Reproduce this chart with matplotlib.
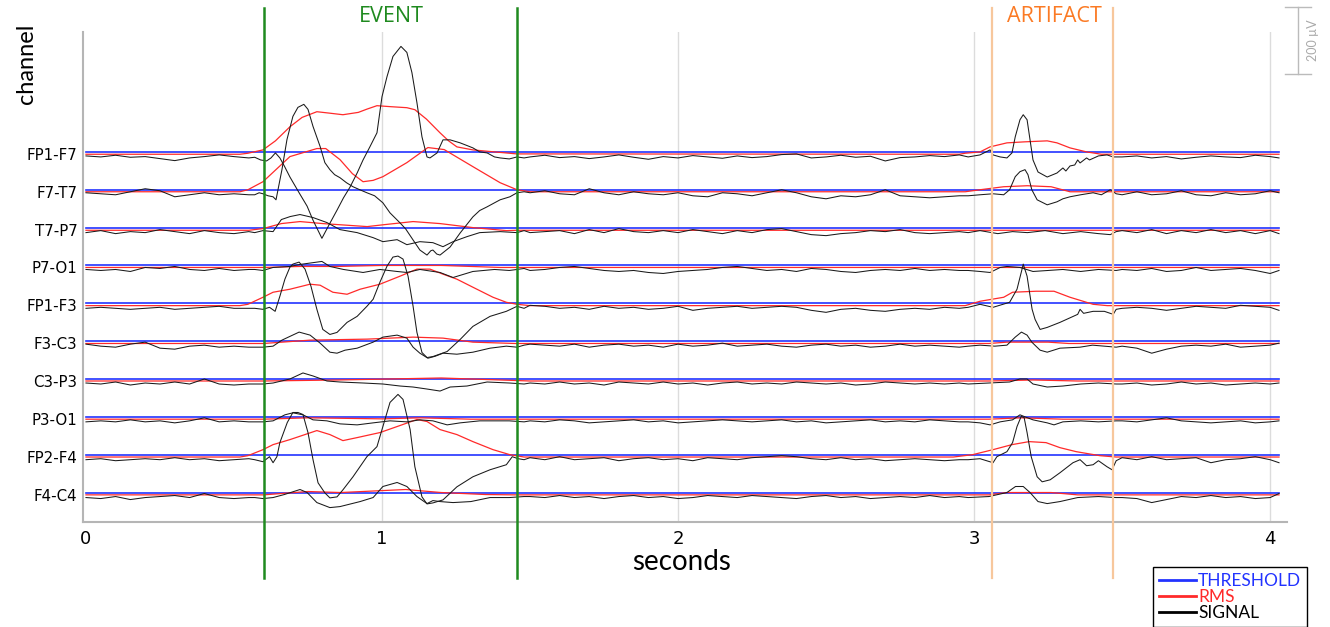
import numpy as np
import matplotlib.pyplot as plt
from matplotlib.lines import Line2D

plt.rcParams['font.family'] = ['Lato', 'DejaVu Sans']

channels = ['FP1-F7', 'F7-T7', 'T7-P7', 'P7-O1', 'FP1-F3',
            'F3-C3', 'C3-P3', 'P3-O1', 'FP2-F4', 'F4-C4']
# threshold level above each channel baseline (uV)
thresholds = [12, 12, 12, 12, 12, 12, 12, 12, 12, 12]
event_window = [0.60, 1.455]
artifact_window = [3.06, 3.47]
grid_seconds = [1, 2, 3, 4]

# sample times of the quiet stretches (before, between and after the marked windows)
t_quiet = np.round(np.concatenate([np.arange(0, 0.56, 0.05), np.arange(1.5, 2.96, 0.05),
                                   np.arange(3.5, 4.01, 0.05), [4.03]]), 2)

# quiet signal values (uV), one per t_quiet sample
quiet_fp1_f7 = [0, -3, 2, -4, -2, -8, -14, -6, -2, 3, -2, -6,
                -3, 2, -5, -2, -8, -3, 3, -4, -10, -2, -6, 1, -3, -7, 0,
                -5, -2, 4, 6, -6, -3, 2, -4, -1, -15, -5, -3, 1, -2, 3,
                -3, 0, -6, -2, -9, -4, 0, -3, -5, 2, -2, -6]
quiet_f7_t7 = [3, 0, -3, 6, 15, 9, -9, -3, 3, -3, 0, -3,
               3, 9, 0, -3, 15, 3, -3, 6, 0, -3, 3, -6, -9, 3, 0,
               -6, 3, 12, 3, -9, -15, -6, -9, -3, 12, -6, -9, -12, -9, -6,
               -3, 6, -3, 0, 9, -3, -6, 3, -3, 0, 9, 3]
quiet_t7_p7 = [-3, 3, -6, 0, -3, 6, 0, -6, 3, -3, -6, 0,
               -3, 0, 3, -6, 6, -3, 9, 0, -3, 3, -3, 6, 0, -6, 3,
               -3, 6, 9, 0, -9, -12, -6, -3, 3, 0, 6, -3, -6, -3, 0,
               3, -3, 6, -6, 3, -3, 6, -3, 3, -6, 3, -6]
quiet_p7_o1 = [0, -3, 0, -6, 6, 3, 9, 0, -3, 3, -3, 0,
               -3, 0, 6, 9, 3, -3, -6, -3, -9, -12, -6, -3, 0, 6, 9,
               3, -3, 0, -6, 3, 0, -6, -9, -3, 0, -3, 3, -3, 0, -3,
               0, -3, 3, -6, -3, 6, -3, 0, 3, -3, -12, -3]
quiet_fp1_f3 = [-3, 0, -3, -6, -3, 0, -6, -3, 0, 3, -3, -3,
                6, 3, -3, 0, -6, 3, -3, 0, -6, -3, 3, -9, -3, 0, 3,
                -3, 0, 3, 0, -9, -15, -6, -3, -9, -12, -6, -3, -6, 0, -3,
                -3, 0, -3, -9, -3, 3, 0, -3, 6, 3, 0, -9]
quiet_f3_c3 = [3, -3, -6, 3, 9, -9, -12, -3, 0, -6, -3, -6,
               3, 0, -3, 3, -6, 0, 3, -3, 0, -6, 3, -3, 0, 6, -3,
               0, 3, -3, -6, 0, 3, -3, 0, -6, -3, 3, -3, 0, -3, -6,
               -3, -9, -24, -12, -3, 0, -3, 3, -6, -3, 0, 6]
quiet_c3_p3 = [0, -3, 3, -6, 0, -3, 3, -3, 12, -3, -6, -3,
               0, -3, 3, -3, 0, -6, 3, 0, -3, 3, -3, 0, -6, 0, 3,
               -3, 0, -3, 3, 0, -3, 0, -6, -3, 3, 0, -3, 0, -3, 0,
               -3, 0, -6, -3, 3, -3, 0, -6, -3, 0, -3, 0]
quiet_p3_o1 = [-3, 0, -3, 3, -3, 0, -6, 0, 9, -3, 0, -3,
               0, -3, 3, 0, -6, -3, 0, 3, -3, 0, -6, -3, 0, 3, 0,
               -3, 0, 3, -3, 0, -6, -3, 0, 3, -3, 0, -3, 3, 0, -3,
               0, -3, 3, 9, 0, -3, -6, -3, 0, -6, -3, 0]
quiet_fp2_f4 = [-3, 0, -6, -3, 0, -3, 3, -3, 0, -6, -3, 0,
                3, -3, 6, -3, 0, 3, -6, 0, 3, -3, 0, -6, 3, 0, -3,
                3, 6, 9, 6, 0, -3, 3, -3, 0, -6, -3, 0, -3, -6, -3,
                3, -3, 6, -3, 0, 3, -12, -3, 0, 6, -3, -12]
quiet_f4_c4 = [-3, -6, 0, -9, -3, 0, 3, -3, 9, -3, -6, -3,
               0, -3, 3, -3, 0, -6, 0, 3, -3, 0, -6, -3, 3, 0, -3,
               3, 0, -3, -6, 0, 3, -3, 0, -6, -3, 0, -3, 3, -3, 0,
               -3, -6, -18, -9, 0, -3, 3, -3, 0, -6, -3, 9]

# signal inside the EVENT and ARTIFACT windows: (seconds, uV)
event_fp1_f7 = [(0.57, -4), (0.59, -12), (0.61, -15), (0.625, -6), (0.64, 9), (0.655, -6),
                (0.67, -30), (0.689, -63), (0.72, -110), (0.747, -150), (0.767, -192),
                (0.797, -246), (0.824, -201), (0.848, -162), (0.87, -125), (0.892, -93),
                (0.916, -51), (0.936, -12), (0.959, 27), (0.983, 69), (1.0, 177), (1.017, 237),
                (1.037, 297), (1.064, 327), (1.084, 309), (1.101, 249), (1.118, 159),
                (1.135, 57), (1.152, -3), (1.162, -6), (1.186, 9), (1.206, 48), (1.23, 48),
                (1.264, 39), (1.29, 30), (1.307, 24), (1.33, 12), (1.355, 9), (1.38, -3),
                (1.399, -6), (1.43, -9), (1.456, -3), (1.48, -6),
                (2.98, -3), (3.02, 3), (3.054, 18), (3.064, 3), (3.088, -3), (3.111, -6),
                (3.128, 9), (3.139, 57), (3.155, 108), (3.166, 123), (3.179, 108), (3.189, 48),
                (3.199, -12), (3.216, -48), (3.247, -63), (3.28, -51), (3.30, -36), (3.31, -45),
                (3.324, -30), (3.34, -27), (3.35, -12), (3.358, -21), (3.38, -6), (3.39, -12),
                (3.42, 0), (3.449, 3), (3.47, -3)]
event_f7_t7 = [(0.57, -3), (0.585, 3), (0.598, 0), (0.615, -6), (0.632, -9), (0.642, -18),
               (0.662, 72), (0.679, 162), (0.699, 231), (0.716, 258), (0.736, 267), (0.75, 252),
               (0.767, 201), (0.791, 141), (0.807, 93), (0.824, 72), (0.84, 57), (0.858, 48),
               (0.88, 33), (0.902, 21), (0.925, 12), (0.949, 3), (0.975, -6), (1.003, -27),
               (1.027, -57), (1.061, -87), (1.08, -105), (1.105, -138), (1.128, -168),
               (1.152, -183), (1.165, -170), (1.172, -168), (1.185, -180), (1.196, -183),
               (1.23, -159), (1.264, -117), (1.307, -69), (1.33, -50), (1.355, -39),
               (1.38, -27), (1.399, -18), (1.432, -9), (1.456, 3), (1.48, 6),
               (2.98, -6), (3.02, -3), (3.064, 0), (3.10, -3), (3.12, 12), (3.139, 51),
               (3.155, 66), (3.172, 72), (3.182, 57), (3.195, 12), (3.213, -18), (3.247, -33),
               (3.28, -24), (3.30, -15), (3.324, -9), (3.36, -3), (3.402, 3), (3.43, -3),
               (3.46, 12), (3.48, 0)]
event_t7_p7 = [(0.57, -3), (0.598, 3), (0.632, 0), (0.66, 36), (0.69, 45), (0.723, 51),
               (0.767, 42), (0.814, 27), (0.858, 6), (0.916, -3), (0.97, -18), (1.003, -30),
               (1.051, -24), (1.084, -39), (1.128, -30), (1.172, -33), (1.206, -45),
               (1.24, -30), (1.287, -15), (1.33, -3), (1.399, 0), (1.456, -3), (1.48, 3),
               (2.98, -3), (3.02, 3), (3.08, -6), (3.13, 0), (3.18, -3), (3.24, 3),
               (3.30, -6), (3.36, 0), (3.42, -6), (3.46, -9), (3.48, 0)]
event_p7_o1 = [(0.57, 0), (0.598, -3), (0.632, 6), (0.689, 9), (0.723, 15), (0.797, 24),
               (0.824, 9), (0.87, 0), (0.936, -9), (0.993, 0), (1.051, -6), (1.084, -9),
               (1.128, 0), (1.196, -9), (1.24, -24), (1.307, -6), (1.38, 0), (1.43, -3),
               (1.456, 0), (1.48, 3),
               (2.98, -3), (3.02, -6), (3.054, -9), (3.088, 6), (3.111, 9), (3.155, 6),
               (3.199, -6), (3.25, -3), (3.30, 0), (3.36, -6), (3.42, 0), (3.48, -3)]
event_fp1_f3 = [(0.57, -3), (0.598, -6), (0.62, 0), (0.639, -12), (0.655, 33), (0.672, 84),
                (0.689, 120), (0.699, 129), (0.72, 135), (0.74, 114), (0.76, 63), (0.78, -6),
                (0.80, -66), (0.824, -81), (0.848, -75), (0.882, -45), (0.916, -27),
                (0.949, 3), (0.97, 24), (0.993, 75), (1.017, 123), (1.037, 150), (1.054, 153),
                (1.071, 144), (1.088, 93), (1.105, 3), (1.118, -75), (1.135, -135),
                (1.152, -150), (1.172, -147), (1.22, -132), (1.264, -96), (1.307, -57),
                (1.365, -27), (1.42, -12), (1.456, 3), (1.48, -3),
                (2.98, 0), (3.02, 9), (3.064, 0), (3.12, 15), (3.145, 54), (3.162, 114),
                (3.166, 129), (3.179, 93), (3.196, -6), (3.206, -36), (3.223, -66),
                (3.247, -60), (3.29, -45), (3.35, -21), (3.358, -6), (3.37, -18),
                (3.402, -12), (3.44, -12), (3.47, -21), (3.48, -6)]
event_f3_c3 = [(0.57, -6), (0.598, -6), (0.632, -3), (0.662, 15), (0.72, 39), (0.757, 30),
               (0.791, 6), (0.824, -21), (0.848, -24), (0.875, -15), (0.916, -9), (0.97, 9),
               (1.003, 24), (1.051, 30), (1.084, 21), (1.105, -6), (1.128, -24), (1.155, -39),
               (1.18, -33), (1.206, -24), (1.253, -27), (1.307, -21), (1.365, -9),
               (1.42, -3), (1.456, -6), (1.48, 0),
               (2.98, -3), (3.02, 0), (3.07, -3), (3.111, 0), (3.139, 24), (3.16, 39),
               (3.179, 30), (3.195, 9), (3.223, -15), (3.247, -21), (3.29, -9),
               (3.358, -6), (3.40, 0), (3.44, -3), (3.48, -6)]
event_c3_p3 = [(0.57, -3), (0.598, -3), (0.632, 0), (0.689, 12), (0.733, 30), (0.767, 21),
               (0.814, 6), (0.858, 3), (0.936, 0), (1.003, -3), (1.061, -9), (1.105, -12),
               (1.152, -18), (1.196, -24), (1.23, -12), (1.287, -9), (1.355, 3), (1.43, 0),
               (1.48, -3),
               (2.98, -3), (3.05, 0), (3.12, 3), (3.155, 12), (3.179, 12), (3.199, -3),
               (3.247, -12), (3.30, -9), (3.36, -3), (3.42, 0), (3.48, -3)]
event_p3_o1 = [(0.57, -3), (0.598, -3), (0.632, 0), (0.672, 18), (0.699, 24), (0.733, 18),
               (0.767, 3), (0.814, 0), (0.858, -9), (0.916, -12), (0.97, -6), (1.027, 0),
               (1.084, -3), (1.128, 3), (1.172, 0), (1.22, -12), (1.264, -6), (1.33, 0),
               (1.43, 0), (1.48, -3),
               (2.98, -3), (3.02, -6), (3.054, -12), (3.088, -3), (3.13, 3), (3.155, 18),
               (3.172, 12), (3.199, 3), (3.247, -6), (3.27, -12), (3.30, -3), (3.36, 0),
               (3.42, -3), (3.48, 0)]
event_fp2_f4 = [(0.57, -3), (0.598, -9), (0.62, 6), (0.632, -12), (0.645, 6), (0.655, 48),
                (0.68, 108), (0.699, 138), (0.716, 138), (0.733, 132), (0.75, 78),
                (0.767, -3), (0.784, -72), (0.807, -102), (0.824, -117), (0.848, -114),
                (0.868, -93), (0.902, -54), (0.949, 6), (0.983, 36), (1.003, 96),
                (1.027, 168), (1.054, 192), (1.071, 177), (1.095, 87), (1.111, -24),
                (1.135, -114), (1.152, -135), (1.172, -132), (1.206, -123), (1.253, -84),
                (1.307, -54), (1.365, -33), (1.42, -18), (1.44, 6), (1.46, 0), (1.48, -3),
                (2.98, -3), (3.02, 0), (3.064, -12), (3.077, 6), (3.111, 21), (3.13, 48),
                (3.145, 96), (3.159, 126), (3.169, 123), (3.179, 78), (3.193, 6),
                (3.213, -54), (3.23, -69), (3.257, -63), (3.29, -42), (3.334, -12),
                (3.358, -3), (3.38, -21), (3.402, -18), (3.42, -6), (3.449, -24),
                (3.466, -33), (3.48, -6)]
event_f4_c4 = [(0.57, -3), (0.598, -6), (0.632, -3), (0.67, 6), (0.723, 21), (0.747, 12),
               (0.78, -18), (0.824, -33), (0.858, -30), (0.926, -15), (0.97, -3), (1.003, 30),
               (1.051, 42), (1.084, 30), (1.118, 0), (1.152, -21), (1.172, -12), (1.196, -15),
               (1.24, -18), (1.30, -15), (1.365, -3), (1.43, -3), (1.48, 0),
               (2.98, -3), (3.05, 0), (3.111, 12), (3.14, 30), (3.166, 30), (3.189, 12),
               (3.216, -15), (3.247, -21), (3.29, -15), (3.35, -3), (3.42, 0), (3.48, -3)]

# moving RMS: (seconds, uV)
rms_fp1_f7 = [(0, 5), (0.52, 5), (0.547, 8), (0.598, 18), (0.64, 45), (0.689, 87), (0.73, 115),
              (0.78, 132), (0.82, 128), (0.868, 123), (0.92, 130), (0.95, 140), (0.983, 150),
              (1.03, 147), (1.084, 144), (1.111, 138), (1.15, 110), (1.196, 69), (1.225, 45),
              (1.253, 27), (1.307, 18), (1.38, 12), (1.456, 6), (2.95, 5), (2.97, 8),
              (3.02, 12), (3.054, 27), (3.111, 39), (3.17, 42), (3.247, 45), (3.28, 39),
              (3.324, 24), (3.38, 12), (3.43, 5), (4.03, 5)]
rms_f7_t7 = [(0, 6), (0.52, 6), (0.547, 12), (0.598, 36), (0.689, 111), (0.78, 135), (0.81, 135),
             (0.858, 102), (0.90, 60), (0.936, 36), (0.97, 40), (1.003, 51), (1.084, 93),
             (1.155, 138), (1.21, 132), (1.307, 81), (1.399, 33), (1.456, 12), (1.5, 6),
             (2.97, 6), (3.02, 12), (3.10, 21), (3.18, 24), (3.26, 21), (3.324, 6), (4.03, 6)]
rms_t7_p7 = [(0, 4), (0.55, 4), (0.598, 9), (0.66, 24), (0.723, 30), (0.80, 24), (0.85, 21),
             (0.95, 15), (1.01, 21), (1.105, 30), (1.196, 24), (1.307, 12), (1.42, 3),
             (1.456, 4), (4.03, 4)]
rms_p7_o1 = [(0, 6), (0.6, 6), (0.723, 9), (0.85, 9), (1.0, 12), (1.2, 12), (1.4, 6), (4.03, 6)]
rms_fp1_f3 = [(0, 5), (0.52, 5), (0.547, 9), (0.598, 30), (0.632, 45), (0.689, 54), (0.757, 69),
              (0.791, 66), (0.834, 45), (0.882, 39), (0.926, 54), (0.993, 69), (1.061, 93),
              (1.118, 114), (1.162, 114), (1.206, 99), (1.253, 84), (1.307, 60), (1.375, 30),
              (1.42, 15), (1.456, 9), (1.5, 5), (2.97, 5), (3.02, 18), (3.10, 30), (3.13, 45),
              (3.21, 48), (3.27, 48), (3.324, 30), (3.402, 9), (3.45, 5), (4.03, 5)]
rms_f3_c3 = [(0, 5), (0.6, 5), (0.757, 15), (0.95, 18), (1.105, 24), (1.206, 21), (1.307, 9),
             (1.45, 5), (3.05, 5), (3.111, 9), (3.25, 9), (3.32, 5), (4.03, 5)]
rms_c3_p3 = [(0, 6), (0.6, 6), (0.85, 9), (1.2, 15), (1.4, 9), (1.5, 6), (3.05, 6), (3.2, 9),
             (3.35, 6), (4.03, 6)]
rms_p3_o1 = [(0, 5), (0.6, 5), (0.75, 9), (1.0, 6), (1.13, 9), (1.3, 5), (3.05, 5), (3.16, 9),
             (3.3, 5), (4.03, 5)]
rms_fp2_f4 = [(0, 5), (0.52, 5), (0.547, 9), (0.598, 27), (0.632, 42), (0.689, 57), (0.78, 84),
              (0.824, 72), (0.868, 54), (0.916, 63), (0.993, 78), (1.051, 96), (1.118, 117),
              (1.152, 111), (1.196, 87), (1.253, 72), (1.307, 51), (1.375, 27), (1.432, 12),
              (1.48, 5), (2.93, 5), (2.995, 12), (3.064, 27), (3.128, 42), (3.186, 51),
              (3.243, 48), (3.29, 33), (3.345, 21), (3.425, 9), (3.48, 5), (4.03, 5)]
rms_f4_c4 = [(0, 5), (0.6, 5), (0.75, 15), (0.86, 12), (1.08, 21), (1.2, 12), (1.35, 6),
             (1.45, 5), (3.05, 5), (3.11, 12), (3.26, 12), (3.35, 5), (4.03, 5)]

quiet = [quiet_fp1_f7, quiet_f7_t7, quiet_t7_p7, quiet_p7_o1, quiet_fp1_f3,
         quiet_f3_c3, quiet_c3_p3, quiet_p3_o1, quiet_fp2_f4, quiet_f4_c4]
events = [event_fp1_f7, event_f7_t7, event_t7_p7, event_p7_o1, event_fp1_f3,
          event_f3_c3, event_c3_p3, event_p3_o1, event_fp2_f4, event_f4_c4]
rms = [rms_fp1_f7, rms_f7_t7, rms_t7_p7, rms_p7_o1, rms_fp1_f3,
       rms_f3_c3, rms_c3_p3, rms_p3_o1, rms_fp2_f4, rms_f4_c4]

SPACING = 113  # uV between channel baselines
BLUE = '#2233ff'
RED = '#ff2a2a'
GREEN = '#1f8a1f'
ORANGE_LINE = '#f7c79c'
ORANGE_TEXT = '#fb7a24'

fig = plt.figure(figsize=(13.3, 6.27), dpi=100)
ax = fig.add_axes([83 / 1330, 105 / 627, 1204 / 1330, 490 / 627])

for i, ch in enumerate(channels):
    base = -SPACING * i
    ev = np.array(events[i], dtype=float)
    t = np.concatenate([t_quiet, ev[:, 0]])
    v = np.concatenate([np.array(quiet[i], dtype=float), ev[:, 1]])
    order = np.argsort(t)
    r = np.array(rms[i], dtype=float)
    ax.plot([0, 4.03], [base + thresholds[i]] * 2, color=BLUE, lw=1.2, zorder=2)
    ax.plot(r[:, 0], base + r[:, 1], color=RED, lw=0.9, zorder=3)
    ax.plot(t[order], base + v[order], color='#1a1a1a', lw=0.75, zorder=4)

for g in grid_seconds:
    ax.axvline(g, color='#dcdcdc', lw=1, zorder=0)
for x in event_window:
    ax.axvline(x, ymin=-0.114, ymax=1.049, color=GREEN, lw=1.8, clip_on=False, zorder=6)
for x in artifact_window:
    ax.axvline(x, ymin=-0.114, ymax=1.049, color=ORANGE_LINE, lw=1.6, clip_on=False, zorder=6)

ax.set_xlim(-0.01, 4.057)
ax.set_ylim(-1093, 370)
ax.set_xticks([0, 1, 2, 3, 4])
ax.set_yticks([-SPACING * i + 6 for i in range(len(channels))], channels)
ax.tick_params(axis='x', length=0, pad=6, labelsize=13, labelfontfamily='DejaVu Sans')
ax.tick_params(axis='y', length=0, pad=4, labelsize=10.8, labelfontfamily='DejaVu Sans')
for s in ['top', 'right']:
    ax.spines[s].set_visible(False)
for s in ['left', 'bottom']:
    ax.spines[s].set_color('#b5b5b5')
    ax.spines[s].set_linewidth(1.5)

fig.text(682 / 1330, 1 - 562 / 627, 'seconds', fontsize=20, ha='center', va='center')
fig.text(26 / 1330, 1 - 64 / 627, 'channel', fontsize=17, rotation=90, ha='center', va='center')
fig.text(391 / 1330, 1 - 17 / 627, 'EVENT', fontsize=15.5, color=GREEN, ha='center', va='center',
         family=['Open Sans', 'DejaVu Sans'])
fig.text(1054 / 1330, 1 - 17 / 627, 'ARTIFACT', fontsize=15.5, color=ORANGE_TEXT,
         ha='center', va='center', family=['Open Sans', 'DejaVu Sans'])

# 200 uV scale bar
ax.plot([4.095, 4.095], [246, 446], color='#bbbbbb', lw=1, clip_on=False)
ax.plot([4.05, 4.139], [246, 246], color='#bbbbbb', lw=1, clip_on=False)
ax.plot([4.05, 4.139], [446, 446], color='#bbbbbb', lw=1, clip_on=False)
ax.text(4.145, 345, '200 µV', rotation=90, fontsize=9, color='#aaaaaa',
        ha='center', va='center', clip_on=False)

handles = [Line2D([], [], color=BLUE, lw=2),
           Line2D([], [], color=RED, lw=2),
           Line2D([], [], color='black', lw=2)]
leg = fig.legend(handles, ['THRESHOLD', 'RMS', 'SIGNAL'], loc='upper left',
                 bbox_to_anchor=(1153 / 1330, 1 - 567 / 627), fontsize=12.5,
                 frameon=True, fancybox=False, framealpha=1, edgecolor='black',
                 handlelength=2.1, handletextpad=0.15, labelspacing=0.0,
                 borderpad=0.35, borderaxespad=0)
leg.get_frame().set_linewidth(1)
for txt, c in zip(leg.get_texts(), [BLUE, RED, 'black']):
    txt.set_color(c)

fig.savefig('out.png', dpi=100)
